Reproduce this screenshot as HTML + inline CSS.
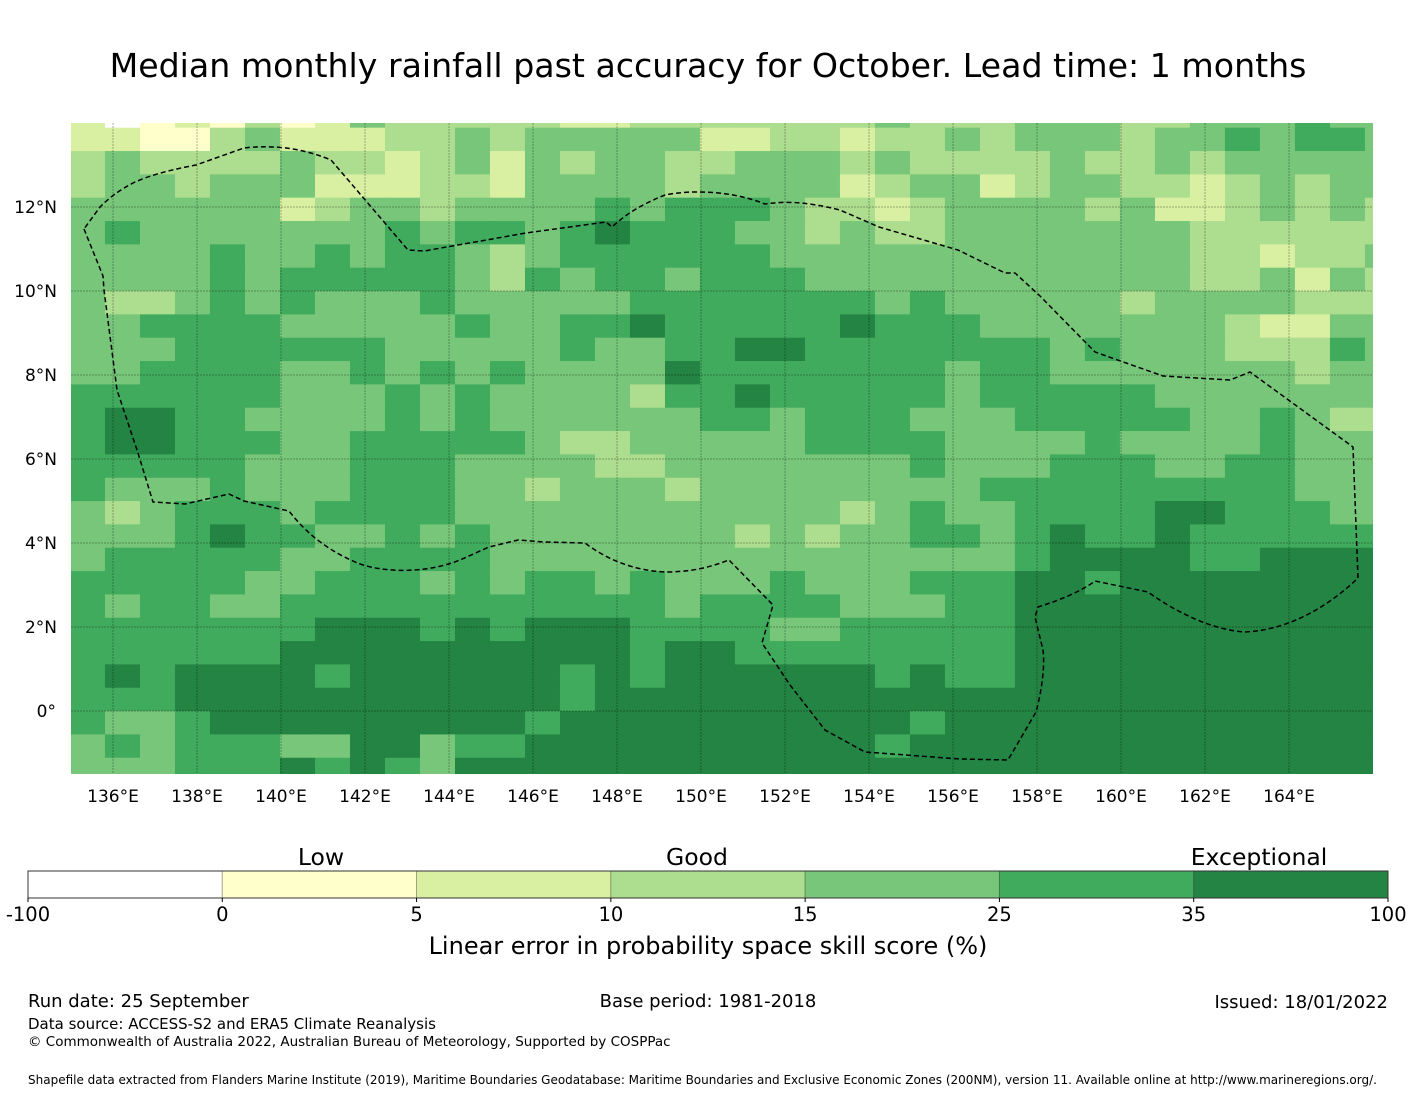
<!DOCTYPE html>
<html><head><meta charset="utf-8">
<style>
html,body{margin:0;padding:0;background:#fff;}
body{width:1416px;height:1095px;overflow:hidden;font-family:"DejaVu Sans","Liberation Sans",sans-serif;}
svg text{font-family:"DejaVu Sans","Liberation Sans",sans-serif;fill:#000;}
</style></head>
<body>
<svg id="chart" width="1416" height="1095" xmlns="http://www.w3.org/2000/svg">
  <text x="708" y="77" font-size="33.2" text-anchor="middle">Median monthly rainfall past accuracy for October. Lead time: 1 months</text>
  <defs><clipPath id="mapclip"><rect x="71" y="123" width="1302" height="651"/></clipPath></defs>
  <g id="cells" clip-path="url(#mapclip)"></g>
  <g id="grid" clip-path="url(#mapclip)"></g>
  <path clip-path="url(#mapclip)" fill="none" stroke="#000" stroke-width="1.5" stroke-dasharray="5,3"
    d="M84,229 L103,276 L104,290 L117,390 L138,453 L153,502 L185,504 L229,494 L244,501 L289,511 C300,525 320,548 360,564 C390,574 430,572 460,560 L489,547 L518,540 L545,542 L585,543 C610,562 640,572 670,572 C700,571 715,565 729,560 L773,605 L762,643 L790,685 L825,730 L865,752 L960,759 L1008,760 L1036,712 C1042,690 1045,665 1043,650 L1035,617 L1038,607 C1060,600 1080,592 1095,581 L1148,592 C1180,615 1215,630 1245,632 C1290,630 1330,605 1358,578 L1353,447 L1250,372 L1230,380 L1163,376 L1095,352 L1040,296 L1015,273 L1005,273 L958,250 L879,227 L840,210 C800,200 780,202 765,204 C730,190 690,190 665,195 C640,205 625,215 612,227 L606,222 L526,233 L424,251 L408,250 L331,160 C300,147 270,145 244,148 L196,165 C170,170 150,175 133,183 C120,190 111,196 100,207 Z"/>
  <g id="axes"></g>
  <g id="cbar"></g>
  <text x="321" y="865" font-size="23.5" text-anchor="middle">Low</text>
  <text x="697" y="865" font-size="23.5" text-anchor="middle">Good</text>
  <text x="1259" y="865" font-size="23.5" text-anchor="middle">Exceptional</text>
  <text x="708" y="954" font-size="24" text-anchor="middle">Linear error in probability space skill score (%)</text>
  <text x="28" y="1007" font-size="18">Run date: 25 September</text>
  <text x="708" y="1007" font-size="18" text-anchor="middle">Base period: 1981-2018</text>
  <text x="1388" y="1008" font-size="18" text-anchor="end">Issued: 18/01/2022</text>
  <text x="28" y="1029" font-size="15">Data source: ACCESS-S2 and ERA5 Climate Reanalysis</text>
  <text x="28" y="1046" font-size="13.5">© Commonwealth of Australia 2022, Australian Bureau of Meteorology, Supported by COSPPac</text>
  <text x="28" y="1084" font-size="12">Shapefile data extracted from Flanders Marine Institute (2019), Maritime Boundaries Geodatabase: Maritime Boundaries and Exclusive Economic Zones (200NM), version 11. Available online at http://www.marineregions.org/.</text>
</svg>
<script>
// ---- data ----
const levelColors = ["#ffffff","#ffffcc","#d9f0a3","#addd8e","#78c679","#41ab5d","#238443"];
const levelBounds = ["-100","0","5","10","15","25","35","100"];
const lonTicks = [136,138,140,142,144,146,148,150,152,154,156,158,160,162,164];
const latTicks = [0,2,4,6,8,10,12];
const lonStart = 134.976, dLon = 0.8333;
const latStart = 14.444, dLat = 0.5556;
// skill-level per cell (row = north->south, col = west->east)
const skillRows = [
"2012131243333"+"3223333333433"+"344433444544",
"2211342223343"+"4444422332334"+"344434454554",
"3433334332342"+"4344334443433"+"334334344444",
"3443444222332"+"4444344442344"+"234433234344",
"4444442344344"+"4454555433234"+"444342234343",
"4544444445455"+"4565554434334"+"444444333333",
"4444544545543"+"4555555444444"+"444444332334",
"4444545555543"+"5455455544444"+"444444334243",
"4334545444544"+"4445555555454"+"444434444333",
"4455554444454"+"4556555556555"+"444444432244",
"4445555554444"+"4544556655555"+"554544433354",
"4455554454545"+"4444655555554"+"554444444344",
"5555554445454"+"4443556555554"+"555554444444",
"5665544445454"+"4444455455544"+"455555445433",
"5665554455555"+"4334444455554"+"444544445444",
"5555544455544"+"4433444444454"+"445554455444",
"5444544455544"+"3444344444444"+"555555555444",
"4345554555544"+"4444444443454"+"455556655544",
"4445655445454"+"4444443434455"+"456556555555",
"4555554455554"+"4444444444444"+"456666556666",
"5555544555454"+"5545444544455"+"566566666666",
"5455445555555"+"5555455554445"+"566666666666",
"5555555666565"+"6665555445555"+"566666666666",
"5555556666666"+"6665665555555"+"566666666666",
"5656666566666"+"6565666666565"+"566666666666",
"5556666666666"+"6566666666666"+"666666666666",
"5445666666666"+"5666666666656"+"666666666666",
"4545554466455"+"6666666666566"+"666666666666",
"4445556565466"+"6666666666666"+"666666666666"
];
// ---- scales ----
const X0=71, Y0=123, PX=42;
function xS(lon){return X0+(lon-135)*PX;}
function yS(lat){return Y0+(14-lat)*PX;}
const NS="http://www.w3.org/2000/svg";
function mk(tag,attrs,parent){const e=document.createElementNS(NS,tag);for(const k in attrs)e.setAttribute(k,attrs[k]);parent.appendChild(e);return e;}
// cells
const cells=document.getElementById('cells');
skillRows.forEach((row,r)=>{
  for(let c=0;c<row.length;c++){
    const lv=+row[c];
    const x1=xS(lonStart+c*dLon), x2=xS(lonStart+(c+1)*dLon);
    const y1=yS(latStart-r*dLat), y2=yS(latStart-(r+1)*dLat);
    const el=mk('rect',{x:x1.toFixed(2),y:y1.toFixed(2),width:(x2-x1+0.4).toFixed(2),height:(y2-y1+0.4).toFixed(2),fill:levelColors[lv]},cells);
    
    
  }
});
// graticule + ticks
const grid=document.getElementById('grid'), axes=document.getElementById('axes');
lonTicks.forEach(l=>{
  const x=xS(l);
  const g=mk('line',{x1:x,x2:x,y1:123,y2:774,stroke:"#000","stroke-opacity":0.3,"stroke-width":1,"stroke-dasharray":"2,1"},grid);
  
  
  const t=mk('text',{x:x,y:802,"font-size":17,"text-anchor":"middle"},axes);
  t.textContent=l+"°E";
  
  
});
latTicks.forEach(l=>{
  const y=yS(l);
  const g=mk('line',{x1:71,x2:1373,y1:y,y2:y,stroke:"#000","stroke-opacity":0.3,"stroke-width":1,"stroke-dasharray":"2,1"},grid);
  
  
  const t=mk('text',{x:l===0?56:57,y:y+6,"font-size":17,"text-anchor":"end"},axes);
  t.textContent=l===0?"0°":l+"°N";
  
  
});
// colorbar
const cb=document.getElementById('cbar');
const cbX=28, cbW=1360, cbY=871, cbH=27, seg=cbW/levelColors.length;
levelColors.forEach((col,i)=>{
  const r=mk('rect',{x:cbX+i*seg,y:cbY,width:seg,height:cbH,fill:col,stroke:"#000","stroke-opacity":0.25,"stroke-width":1},cb);
  
  
});
const fr=mk('rect',{x:cbX,y:cbY,width:cbW,height:cbH,fill:"none",stroke:"#333","stroke-width":1},cb);


levelBounds.forEach((b,i)=>{
  const x=cbX+i*seg;
  const tk=mk('line',{x1:x,x2:x,y1:cbY+cbH,y2:cbY+cbH+4,stroke:"#000"},cb);
  
  
  const t=mk('text',{x:x,y:921,"font-size":19.5,"text-anchor":"middle"},cb);
  t.textContent=b;
  
  
});
</script>
</body></html>
